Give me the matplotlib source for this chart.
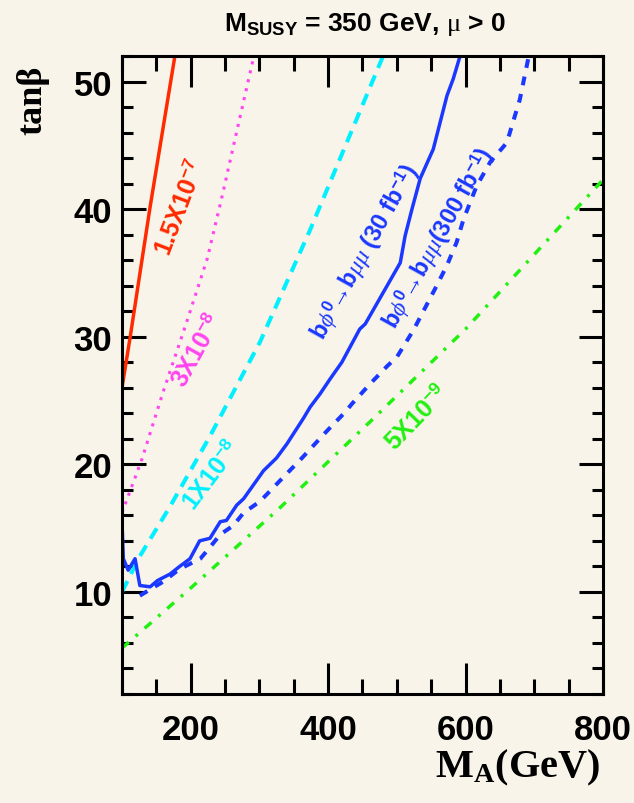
import matplotlib
matplotlib.use("Agg")
import matplotlib.pyplot as plt
from matplotlib.ticker import MultipleLocator

# curves (M_A in GeV, tan beta)
red_x = [100, 112, 141, 177]
red_y = [26.0, 30.0, 40.2, 52.0]

mag_x = [100, 129, 160, 192, 224, 247, 262, 292]
mag_y = [16.2, 20.4, 25.7, 30.8, 36.1, 41.3, 44.9, 52.0]

cyan_x = [100, 126, 170, 228, 301, 374, 480]
cyan_y = [10.0, 12.8, 16.7, 22.2, 29.6, 38.4, 52.0]

green_x = [100, 200, 330, 470, 600, 800]
green_y = [5.6, 10.3, 16.6, 23.8, 30.6, 42.3]

b30_x = [100, 102, 109, 119, 126, 141, 152, 170, 184, 199, 213, 228, 243, 252,
         267, 277, 306, 325, 340, 364, 374, 388, 403, 420, 446, 454, 505, 512,
         522, 534, 553, 573, 582, 592]
b30_y = [15.5, 12.6, 11.7, 12.6, 10.5, 10.4, 10.9, 11.4, 12.0, 12.6, 14.0, 14.2,
         15.5, 15.6, 16.8, 17.3, 19.5, 20.5, 21.6, 23.6, 24.5, 25.5, 26.7, 28.0,
         30.6, 31.0, 35.8, 37.9, 40.0, 42.4, 44.7, 48.9, 50.2, 52.0]

b300_x = [126, 141, 160, 184, 214, 228, 243, 262, 277, 301, 335, 362, 398, 425,
          434, 461, 486, 500, 524, 558, 573, 587, 597, 616, 636, 660, 679, 692]
b300_y = [9.7, 10.2, 10.8, 11.8, 12.6, 13.5, 14.5, 15.2, 16.2, 17.1, 19.0, 20.5,
          22.6, 24.1, 24.7, 26.3, 27.7, 28.4, 30.5, 34.0, 35.6, 37.4, 39.2, 41.8,
          43.7, 45.2, 48.6, 52.0]

xticks = [200, 400, 600, 800]
yticks = [10, 20, 30, 40, 50]

bg = '#f8f4e9'
c_red = '#ff2a00'
c_mag = '#ff44f0'
c_cyan = '#00f0ff'
c_blue = '#1a38ff'
c_green = '#22f011'

plt.rcParams['font.family'] = ['Liberation Sans', 'DejaVu Sans']
plt.rcParams['mathtext.fontset'] = 'custom'
plt.rcParams['mathtext.rm'] = 'Liberation Serif'
plt.rcParams['mathtext.it'] = 'Liberation Serif:italic'
plt.rcParams['mathtext.bf'] = 'Liberation Serif:bold'
plt.rcParams['mathtext.sf'] = 'Liberation Sans:bold'

fig = plt.figure(figsize=(6.34, 8.04), dpi=100, facecolor=bg)
ax = fig.add_axes([0.1924, 0.1356, 0.7587, 0.7935])
ax.set_facecolor(bg)

ax.plot(red_x, red_y, color=c_red, lw=2.5)
ax.plot(mag_x, mag_y, color=c_mag, lw=2.2, linestyle=(0, (1.0, 2.0)))
ax.plot(cyan_x, cyan_y, color=c_cyan, lw=2.9, linestyle=(0, (3.0, 2.0)))
ax.plot(green_x, green_y, color=c_green, lw=2.5,
        linestyle=(0, (2.6, 2.6, 0.85, 2.6)))
ax.plot(b30_x, b30_y, color=c_blue, lw=2.5)
ax.plot(b300_x, b300_y, color=c_blue, lw=2.9, linestyle=(0, (2.2, 2.2)))

ax.set_xlim(100, 800)
ax.set_ylim(2, 52)
ax.set_xticks(xticks)
ax.set_yticks(yticks)
ax.xaxis.set_minor_locator(MultipleLocator(50))
ax.yaxis.set_minor_locator(MultipleLocator(2))
ax.tick_params(which='both', direction='in', top=True, right=True, width=2.2,
               color='black')
ax.tick_params(axis='x', which='major', length=22, pad=14)
ax.tick_params(axis='x', which='minor', length=11)
ax.tick_params(axis='y', which='major', length=17, pad=7)
ax.tick_params(axis='y', which='minor', length=8)
for lab in ax.get_xticklabels() + ax.get_yticklabels():
    lab.set_fontweight('bold')
    lab.set_fontsize(25)
for sp in ax.spines.values():
    sp.set_linewidth(2.2)

# curve labels
lab_kw = dict(ha='center', va='center', rotation_mode='anchor',
              fontweight='bold', fontsize=18)
ax.text(184, 40.2, r'1.5X10$^{\mathsf{-7}}$', color=c_red, rotation=69, **lab_kw)
ax.text(209, 29.0, r'3X10$^{\mathsf{-8}}$', color=c_mag, rotation=61, **lab_kw)
ax.text(230, 19.2, r'1X10$^{\mathsf{-8}}$', color=c_cyan, rotation=53, **lab_kw)
ax.text(529, 23.7, r'5X10$^{\mathsf{-9}}$', color=c_green, rotation=46, **lab_kw)
blue_kw = dict(lab_kw, fontsize=17)
ax.text(454, 36.7, r'b$\phi^{\mathsf{0}}\!\!\rightarrow\!$b$\mu\mu$ (30 fb$^{\mathsf{-1}}$)',
        color=c_blue, rotation=61, **blue_kw)
ax.text(560, 37.8, r'b$\phi^{\mathsf{0}}\!\!\rightarrow\!$b$\mu\mu$(300 fb$^{\mathsf{-1}}$)',
        color=c_blue, rotation=61, **blue_kw)

# title and axis titles
fig.text(365 / 634, 1 - 24 / 804,
         r'$\mathsf{M_{SUSY}}$ = 350 GeV, $\mathrm{\mu}$ > 0',
         ha='center', va='center', fontsize=19, fontweight='bold')
fig.text(33 / 634, 1 - 100 / 804, 'tanβ', rotation=90, ha='center', va='center',
         family='Liberation Serif', fontweight='bold', fontsize=26)
fig.text(517 / 634, 1 - 768 / 804, r'$\mathbf{M_A}$(GeV)', ha='center', va='center',
         family='Liberation Serif', fontweight='bold', fontsize=29)

fig.savefig('out.png', dpi=100, facecolor=bg)
